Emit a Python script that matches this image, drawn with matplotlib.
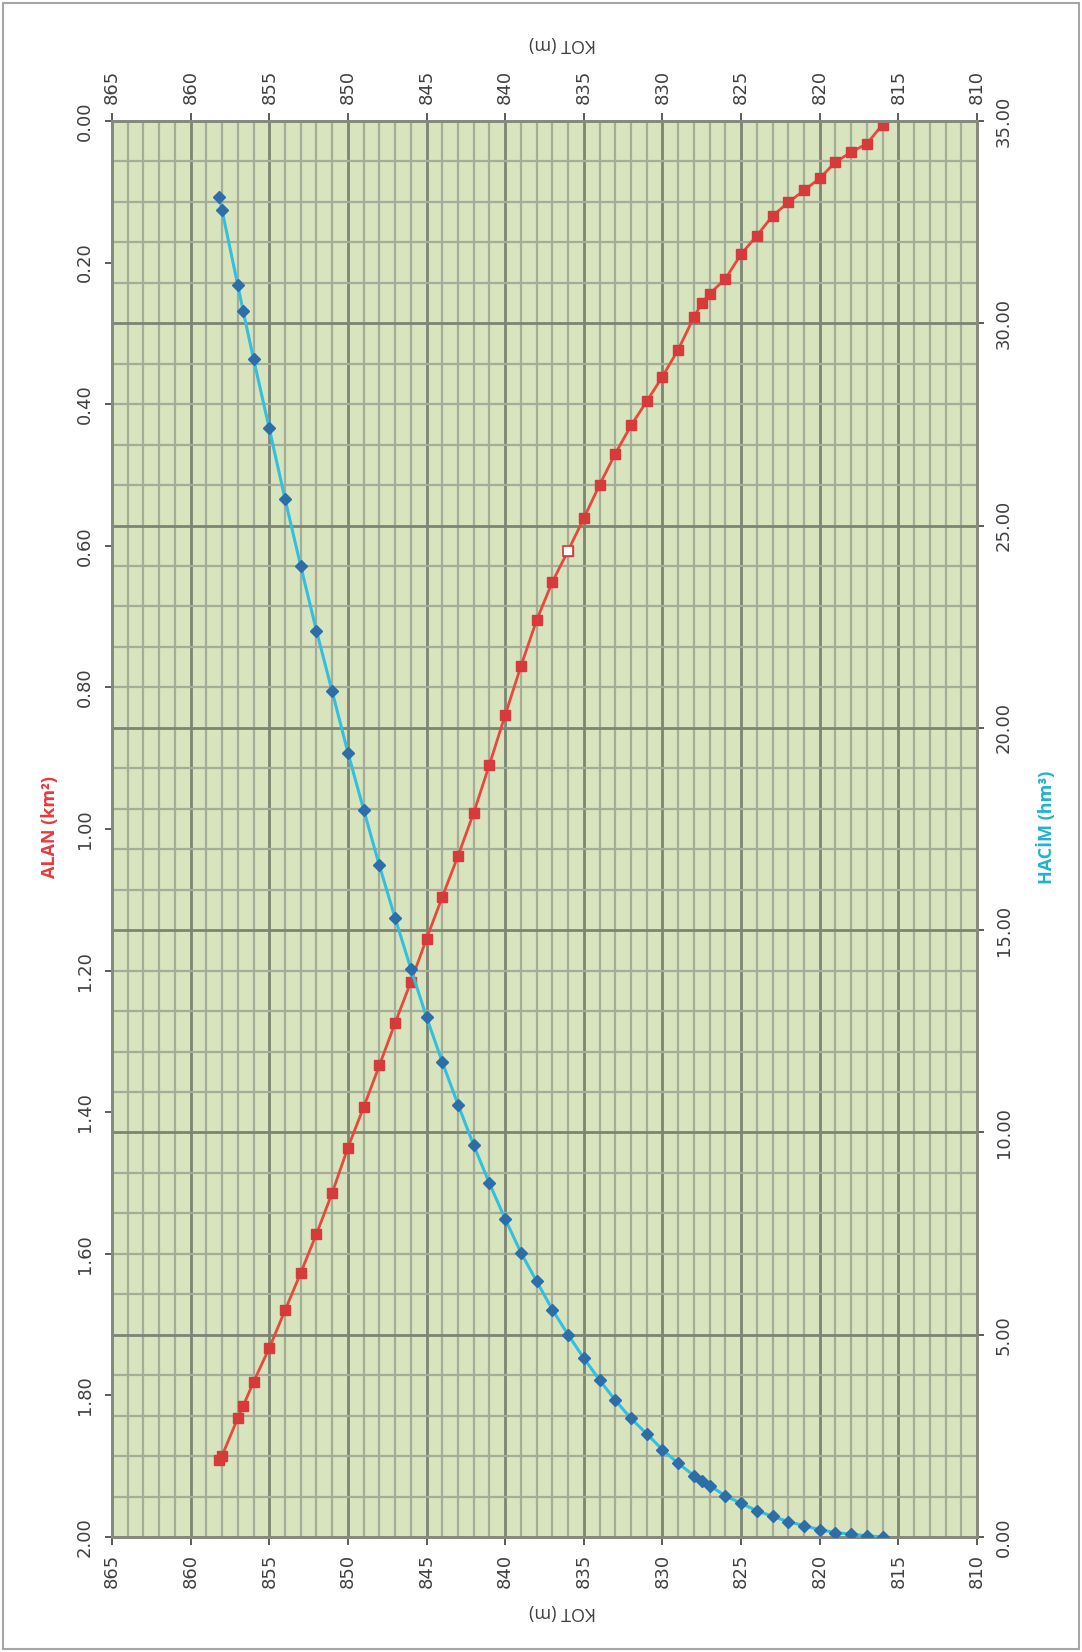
import matplotlib.pyplot as plt
from matplotlib.transforms import blended_transform_factory
from matplotlib.patches import Rectangle

# KOT (m) levels, shared by both series
kot = [858.17, 858, 857, 856.66, 856, 855, 854, 853, 852, 851, 850, 849, 848, 847,
       846, 845, 844, 843, 842, 841, 840, 839, 838, 837, 836, 835, 834, 833, 832,
       831, 830, 829, 828, 827.5, 827, 826, 825, 824, 823, 822, 821, 820, 819,
       818, 817, 816]
# ALAN (km2)
alan = [1.891, 1.885, 1.832, 1.815, 1.781, 1.733, 1.680, 1.627, 1.572, 1.514,
        1.450, 1.393, 1.334, 1.274, 1.216, 1.155, 1.096, 1.038, 0.977, 0.909,
        0.839, 0.770, 0.705, 0.651, 0.607, 0.561, 0.514, 0.470, 0.430, 0.396,
        0.361, 0.323, 0.277, 0.257, 0.244, 0.223, 0.188, 0.162, 0.134, 0.115,
        0.098, 0.081, 0.058, 0.044, 0.032, 0.005]
# HACIM (hm3)
hacim = [33.11, 32.79, 30.94, 30.30, 29.12, 27.4, 25.66, 24.0, 22.4, 20.9, 19.39,
         17.98, 16.6, 15.3, 14.05, 12.85, 11.74, 10.69, 9.68, 8.74, 7.86, 7.03,
         6.32, 5.62, 5.0, 4.42, 3.88, 3.38, 2.93, 2.55, 2.16, 1.82, 1.52, 1.39,
         1.27, 1.02, 0.83, 0.65, 0.51, 0.38, 0.28, 0.18, 0.11, 0.07, 0.03, 0.0]
hollow_kot = 836  # one red marker drawn without fill

kot_ticks = list(range(865, 809, -5))
alan_ticks = [i * 0.2 for i in range(11)]
hacim_ticks = list(range(0, 36, 5))

W, H = 1082, 1652
fig = plt.figure(figsize=(W / 100, H / 100), dpi=100)
fig.patches.append(Rectangle((3 / W, 3 / H), 1 - 6 / W, 1 - 6 / H, transform=fig.transFigure,
                             fill=False, edgecolor='#a6a6a6', lw=1.5))

ax = fig.add_axes([112 / W, 1 - 1537 / H, 865 / W, 1416 / H])
ax.set_facecolor('#d7e4bd')
ax.set_xlim(865, 810)
ax.set_ylim(2, 0)
ax2 = ax.twinx()
ax2.set_ylim(0, 35)

major_c = '#7d8473'
minor_c = '#a5ad98'
# vertical grid: every 1 m, darker every 5 m
for k in range(810, 866):
    major = k % 5 == 0
    ax.axvline(k, color=major_c if major else minor_c, lw=2.0 if major else 1.6, zorder=0.5)
# horizontal grid follows the HACIM axis: every 1 hm3, darker every 5
tr = blended_transform_factory(ax.transAxes, ax2.transData)
for h in range(0, 36):
    major = h % 5 == 0
    ax.plot([0, 1], [h, h], transform=tr, color=major_c if major else minor_c,
            lw=2.0 if major else 1.6, zorder=0.5)

ax.plot(kot, alan, color='#e9483c', lw=2, marker='s', ms=7, mfc='#d63a3a',
        mec='#d63a3a', zorder=3)
i = kot.index(hollow_kot)
ax.plot([kot[i]], [alan[i]], ls='none', marker='s', ms=7, mfc='white', mec='#d63a3a',
        mew=1.2, zorder=4)
ax2.plot(kot, hacim, color='#33bfe0', lw=2.2, marker='D', ms=6, mfc='#2e6ea8',
         mec='#2e6ea8', zorder=3)

tick_c = '#404040'
ax.set_xticks(kot_ticks)
ax.set_xticklabels([str(k) for k in kot_ticks])
ax.tick_params(axis='x', top=True, labeltop=True, bottom=True, labelbottom=True,
               labelrotation=90, colors=tick_c, labelsize=13, length=6,
               width=1.2, direction='out', pad=6)
ax.set_yticks(alan_ticks)
ax.set_yticklabels(['%.2f' % v for v in alan_ticks])
ax.tick_params(axis='y', labelrotation=90, colors=tick_c, labelsize=13, length=5,
               width=1.2, pad=8)
for lab in ax.get_yticklabels():
    lab.set_va('center')
ax2.set_yticks(hacim_ticks)
ax2.set_yticklabels(['%.2f' % v for v in hacim_ticks])
ax2.tick_params(axis='y', labelrotation=90, colors=tick_c, labelsize=13, length=5,
                width=1.2, pad=8)
for lab in ax2.get_yticklabels():
    lab.set_va('center')

for a in (ax, ax2):
    for s in a.spines.values():
        s.set_color('#868a7c')
        s.set_linewidth(2)

fig.text(563 / W, 1 - 44 / H, 'KOT (m)', rotation=180, ha='center', va='center',
         fontsize=13, color=tick_c, family='Open Sans')
fig.text(563 / W, 1 - 1612 / H, 'KOT (m)', rotation=180, ha='center', va='center',
         fontsize=13, color=tick_c, family='Open Sans')
fig.text(50 / W, 1 - 827 / H, 'ALAN (km²)', rotation=90, ha='center', va='center',
         fontsize=13, color='#e8393b', fontweight='bold', family='Open Sans')
fig.text(1046 / W, 1 - 827 / H, 'HACİM (hm³)', rotation=90, ha='center', va='center',
         fontsize=13, color='#1fb3cc', fontweight='bold', family='Open Sans')

fig.savefig('out.png', dpi=100)
